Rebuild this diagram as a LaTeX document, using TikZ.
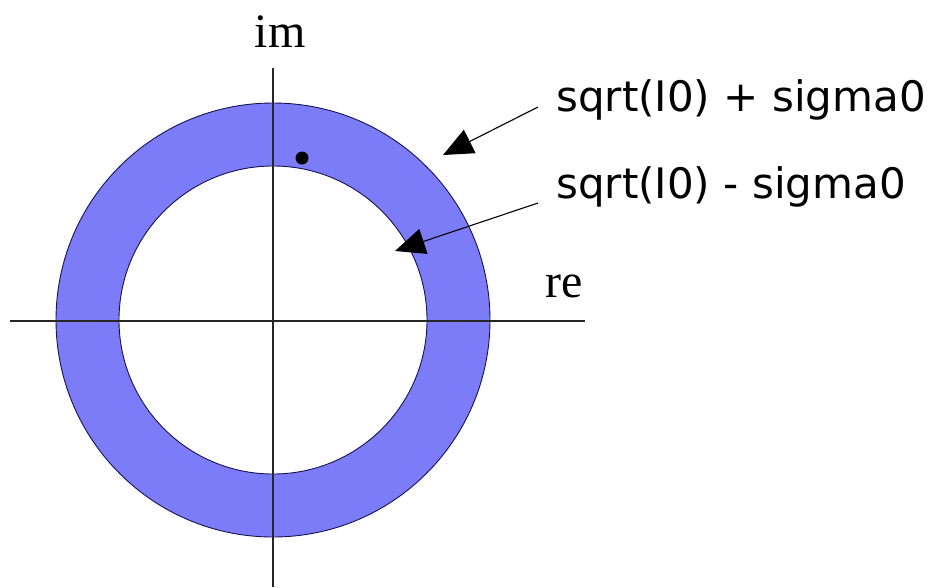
\documentclass[tikz,border=0pt]{standalone}
\usepackage{fontspec}
\setmainfont{Liberation Serif}
\newfontfamily\labelfont{DejaVu Sans}
\usetikzlibrary{arrows.meta}
\definecolor{ringblue}{RGB}{124,124,248}
\definecolor{ringedge}{RGB}{20,20,80}
\tikzset{
  axisline/.style={line width=1.3pt, draw=black!85},
  ringedgeline/.style={line width=0.9pt, draw=ringedge},
  pointer/.style={line width=1.1pt, -{Triangle[length=30pt,width=26pt]}},
  axislabel/.style={inner sep=0pt, anchor=base, font=\fontsize{48}{50}\selectfont},
  sidelabel/.style={inner sep=0pt, anchor=base west, font=\labelfont\fontsize{42}{46}\selectfont}
}
\begin{document}
\begin{tikzpicture}[x=1pt,y=-1pt]
\useasboundingbox (0,0) rectangle (929,587);
% ring
\fill[ringblue, even odd rule] (273,320) circle (217) (273,320) circle (154);
\draw[ringedgeline] (273,320) circle (217);
\draw[ringedgeline] (273,320) circle (154);
% axes
\coordinate (xl) at (10,321);
\coordinate (xr) at (585,321);
\coordinate (yt) at (273,68);
\coordinate (yb) at (273,587);
\draw[axisline] (xl) -- (xr);
\draw[axisline] (yt) -- (yb);
% point
\fill[black] (302,158) circle (6.5);
% labels
\node[axislabel] (im) at (280,47) {im};
\node[axislabel] (re) at (564,297) {re};
\node[sidelabel] (plus) at (556,111) {sqrt(I0) + sigma0};
\node[sidelabel] (minus) at (556,198) {sqrt(I0) - sigma0};
% pointers
\coordinate (p1s) at (538,107);
\coordinate (p1e) at (443,155);
\coordinate (p2s) at (538,203);
\coordinate (p2e) at (395,251);
\draw[pointer] (p1s) -- (p1e);
\draw[pointer] (p2s) -- (p2e);
\end{tikzpicture}
\end{document}
